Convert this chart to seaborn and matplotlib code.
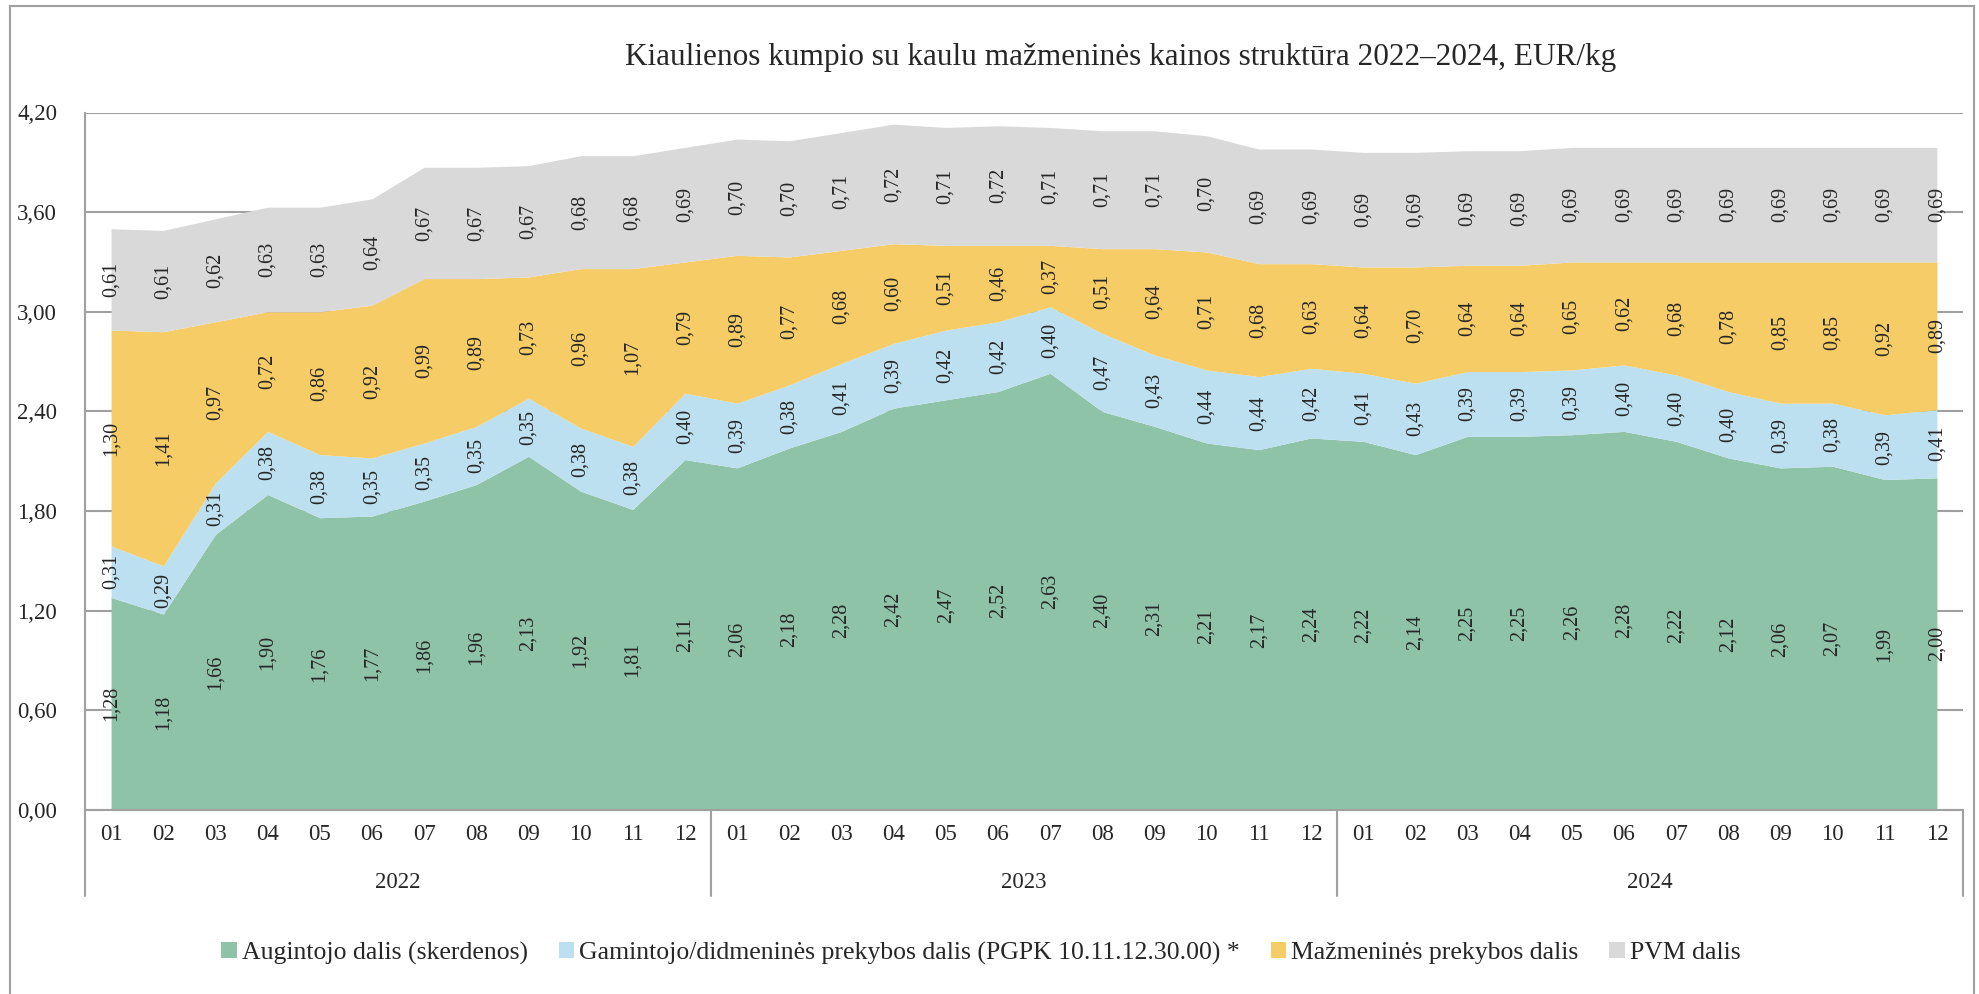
import numpy as np
import pandas as pd
import matplotlib
matplotlib.use("Agg")
import matplotlib.pyplot as plt
import matplotlib.transforms as mtransforms
from matplotlib.patches import Rectangle, Patch
import seaborn as sns

# === Data (EUR/kg) ===
months = ["01", "02", "03", "04", "05", "06", "07", "08", "09", "10", "11", "12"] * 3
years = ["2022", "2023", "2024"]

augintojo = [1.28, 1.18, 1.66, 1.90, 1.76, 1.77, 1.86, 1.96, 2.13, 1.92, 1.81, 2.11,
             2.06, 2.18, 2.28, 2.42, 2.47, 2.52, 2.63, 2.40, 2.31, 2.21, 2.17, 2.24,
             2.22, 2.14, 2.25, 2.25, 2.26, 2.28, 2.22, 2.12, 2.06, 2.07, 1.99, 2.00]
gamintojo = [0.31, 0.29, 0.31, 0.38, 0.38, 0.35, 0.35, 0.35, 0.35, 0.38, 0.38, 0.40,
             0.39, 0.38, 0.41, 0.39, 0.42, 0.42, 0.40, 0.47, 0.43, 0.44, 0.44, 0.42,
             0.41, 0.43, 0.39, 0.39, 0.39, 0.40, 0.40, 0.40, 0.39, 0.38, 0.39, 0.41]
mazmenine = [1.30, 1.41, 0.97, 0.72, 0.86, 0.92, 0.99, 0.89, 0.73, 0.96, 1.07, 0.79,
             0.89, 0.77, 0.68, 0.60, 0.51, 0.46, 0.37, 0.51, 0.64, 0.71, 0.68, 0.63,
             0.64, 0.70, 0.64, 0.64, 0.65, 0.62, 0.68, 0.78, 0.85, 0.85, 0.92, 0.89]
pvm = [0.61, 0.61, 0.62, 0.63, 0.63, 0.64, 0.67, 0.67, 0.67, 0.68, 0.68, 0.69,
       0.70, 0.70, 0.71, 0.72, 0.71, 0.72, 0.71, 0.71, 0.71, 0.70, 0.69, 0.69,
       0.69, 0.69, 0.69, 0.69, 0.69, 0.69, 0.69, 0.69, 0.69, 0.69, 0.69, 0.69]

series_names = ["Augintojo dalis (skerdenos)",
                "Gamintojo/didmeninės prekybos dalis (PGPK 10.11.12.30.00) *",
                "Mažmeninės prekybos dalis",
                "PVM dalis"]
colors = ["#8FC3A8", "#BDE0F0", "#F5CC66", "#D9D9D9"]

yticks = [0.0, 0.6, 1.2, 1.8, 2.4, 3.0, 3.6, 4.2]

df = pd.DataFrame({"idx": np.arange(len(months)), "month": months,
                   series_names[0]: augintojo, series_names[1]: gamintojo,
                   series_names[2]: mazmenine, series_names[3]: pvm})

# === Style ===
sns.set_style("white")
plt.rcParams['font.family'] = ['Liberation Serif', 'DejaVu Serif']

W, H = 1979, 994
fig = plt.figure(figsize=(W / 100, H / 100), dpi=100)
ax = fig.add_axes([85 / W, 1 - 810 / H, (1963 - 85) / W, (810 - 112.5) / H])

ax.stackplot(df["idx"], *[df[s] for s in series_names], colors=colors,
             labels=series_names, linewidth=0, zorder=2)

# data labels in the middle of each band
bottom = np.zeros(len(df))
for s in series_names:
    vals = df[s].to_numpy()
    for i, v in enumerate(vals):
        ax.text(i, bottom[i] + v / 2, f"{v:.2f}".replace(".", ","),
                rotation=90, ha="center", va="center", fontsize=14.5, zorder=3)
    bottom = bottom + vals

# axes / grid
ax.set_xlim(-0.5, len(df) - 0.5)
ax.set_ylim(0, 4.2)
ax.set_yticks(yticks)
ax.set_yticklabels([f"{t:.2f}".replace(".", ",") for t in yticks], fontsize=16.5)
ax.yaxis.grid(True, color="#A0A0A0", linewidth=1.5, zorder=0)
ax.set_axisbelow(True)
ax.tick_params(axis="y", length=0, pad=20)

ax.set_xticks(df["idx"])
ax.set_xticklabels(df["month"], fontsize=16.5)
ax.tick_params(axis="x", length=0, pad=10)

for side in ["top", "right"]:
    ax.spines[side].set_visible(False)
for side in ["left", "bottom"]:
    ax.spines[side].set_color("#A0A0A0")
    ax.spines[side].set_linewidth(1.5)

# year groups below the month labels
trans = mtransforms.blended_transform_factory(ax.transData, ax.transAxes)
sep_bottom = -(896 - 810) / (810 - 112.5)
for k in range(len(years) + 1):
    xs = -0.5 + 12 * k
    ax.plot([xs, xs], [0, sep_bottom], transform=trans, color="#A0A0A0",
            linewidth=1.5, clip_on=False)
for k, yr in enumerate(years):
    ax.text(12 * k + 5.5, -(882 - 810) / (810 - 112.5), yr, transform=trans,
            ha="center", va="center", fontsize=16.5)

# title
fig.text(1121 / W, 1 - 58 / H, "Kiaulienos kumpio su kaulu mažmeninės kainos struktūra 2022–2024, EUR/kg",
         ha="center", va="center", fontsize=22.5)

# legend
handles = [Patch(facecolor=c, edgecolor="none") for c in colors]
fig.legend(handles, series_names, loc="center", bbox_to_anchor=(981 / W, 1 - 953 / H),
           ncol=4, frameon=False, fontsize=18.5, handlelength=0.6, handleheight=0.6,
           handletextpad=0.2, columnspacing=1.2)

# outer frame
fig.patches.append(Rectangle((10 / W, -0.05), (1974 - 10) / W, 1.05 - 6 / H,
                             transform=fig.transFigure, fill=False,
                             edgecolor="#A0A0A0", linewidth=1.5))

plt.savefig("out.png", dpi=100)
plt.close()
